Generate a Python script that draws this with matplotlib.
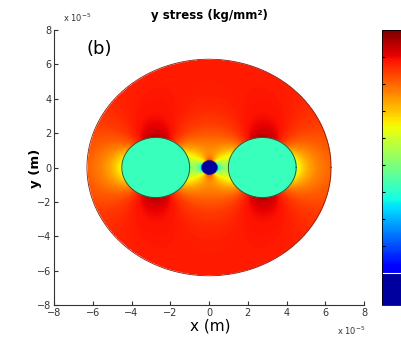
import matplotlib
matplotlib.use('Agg')
import matplotlib.pyplot as plt
import numpy as np
from matplotlib.colors import ListedColormap, Normalize

# geometry in units of 1e-5 m
outer_radius = 6.3
incl_centers = [-2.75, 2.75]
incl_radius = 1.75
dot_radius = 0.42

# stress levels (as position on the jet scale)
base_level = 0.87
incl_level = 0.42
dot_level = 0.05
incl_amp = 0.17
incl_shift = 0.06
dot_amp = 0.25
dot_shift = 0.10

ticks = [-8, -6, -4, -2, 0, 2, 4, 6, 8]
cbar_ticks = [0.2, 0.3, 0.4, 0.5, 0.6, 0.7, 0.8, 0.9]

n = 500
x = np.linspace(-8, 8, n)
y = np.linspace(-8, 8, n)
X, Y = np.meshgrid(x, y)

field = np.full(X.shape, base_level)
for cx in incl_centers:
    r2 = (X - cx)**2 + Y**2
    cos2 = ((X - cx)**2 - Y**2) / np.maximum(r2, 1e-9)
    k = incl_radius**2 / np.maximum(r2, incl_radius**2)
    field += k * (-incl_amp * cos2 - incl_shift)
r2 = X**2 + Y**2
cos2 = (X**2 - Y**2) / np.maximum(r2, 1e-9)
k = dot_radius**2 / np.maximum(r2, dot_radius**2)
field += k * (-dot_amp * cos2 - dot_shift)

for cx in incl_centers:
    field[(X - cx)**2 + Y**2 <= incl_radius**2] = incl_level
field[r2 <= dot_radius**2] = dot_level
field = np.ma.masked_where(r2 > outer_radius**2, field)

cmap = ListedColormap(plt.cm.jet(np.linspace(0.1, 1, 256)))
cmap.set_under(plt.cm.jet(0.03))
cmap.set_bad((1, 1, 1, 0))
norm = Normalize(vmin=0.1, vmax=1.0)

fig = plt.figure(figsize=(4.01, 3.42), dpi=100)
ax = fig.add_axes([54/401, 37/342, 310/401, 275/342])
im = ax.imshow(field, cmap=cmap, norm=norm, extent=[-8, 8, -8, 8],
               origin='lower', aspect='auto', interpolation='bilinear')

t = np.linspace(0, 2*np.pi, 400)
ax.plot(outer_radius*np.cos(t), outer_radius*np.sin(t), color='#8a2010', lw=0.6)
for cx in incl_centers:
    ax.plot(cx + incl_radius*np.cos(t), incl_radius*np.sin(t), color='#2a5a3a', lw=0.7)

ax.set_xlim(-8, 8)
ax.set_ylim(-8, 8)
ax.set_xticks(ticks)
ax.set_yticks(ticks)
ax.tick_params(direction='in', length=3, labelsize=7, colors='#333333', pad=2)
for s in ['top', 'right']:
    ax.spines[s].set_visible(False)
for s in ['left', 'bottom']:
    ax.spines[s].set_color('#333333')
    ax.spines[s].set_linewidth(0.8)

ax.text(-6.3, 6.6, '(b)', fontsize=13)

fig.text(209/401, 1 - 15/342, 'y stress (kg/mm²)', ha='center', va='center',
         fontsize=8.5, fontweight='bold')
fig.text(210/401, 1 - 326/342, 'x (m)', ha='center', va='center', fontsize=11)
fig.text(35/401, 1 - 168/342, 'y (m)', ha='center', va='center', fontsize=9.5,
         fontweight='bold', rotation=90)
fig.text(63/401, 1 - 18/342, r'x 10$^{-5}$', ha='left', va='center', fontsize=6,
         color='#333333')
fig.text(337/401, 1 - 331/342, r'x 10$^{-5}$', ha='left', va='center', fontsize=6,
         color='#333333')

cax = fig.add_axes([382/401, 37/342, 22/401, 275/342])
cb = fig.colorbar(im, cax=cax, extend='min', extendrect=True, extendfrac=0.13)
cb.set_ticks(cbar_ticks)
cb.ax.tick_params(direction='in', length=2.5, labelsize=6, left=True, right=True)
cb.ax.set_yticklabels([])
cb.outline.set_linewidth(0.6)
cb.ax.axhline(0.1, color='white', lw=0.8, clip_on=False)

fig.savefig('out.png', dpi=100)
